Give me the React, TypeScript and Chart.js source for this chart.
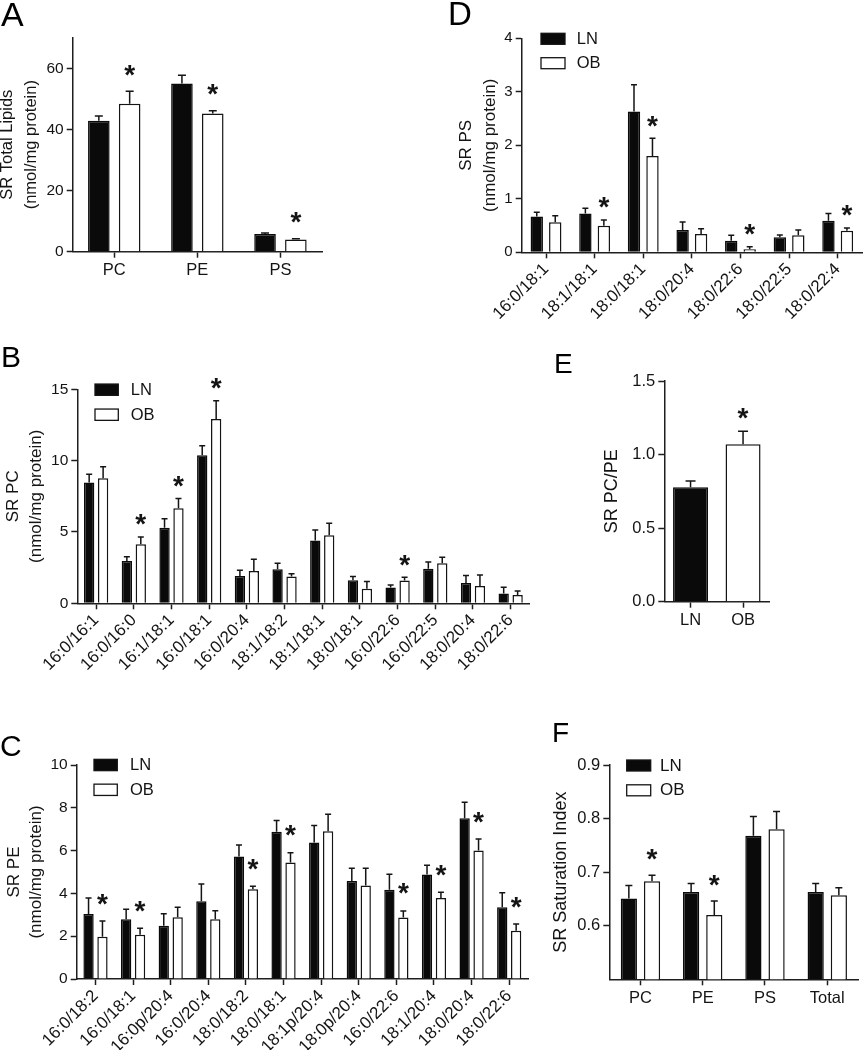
import React, { useEffect, useRef } from 'react';
import { Chart, registerables } from 'chart.js';

Chart.register(...registerables);

const FONT = '"Liberation Sans", Arial, Helvetica, sans-serif';
const AXIS = '#1e1e1e';
const INK = '#141414';
const FILL_LN = '#0a0a0a';
const FILL_OB = '#ffffff';

// ---------- Panel A: SR total lipids ----------
const totalCategories = ['PC', 'PE', 'PS'];
const totalLN = [42.8, 55.0, 5.8];
const totalLNsem = [1.6, 2.7, 0.3];
const totalOB = [48.4, 45.2, 4.0];
const totalOBsem = [4.1, 0.9, 0.25];
const totalStars = [true, true, true];
const totalTicks = [0, 20, 40, 60];

// ---------- Panel B: SR PC species ----------
const pcSpecies = ['16:0/16:1', '16:0/16:0', '16:1/18:1', '16:0/18:1', '16:0/20:4', '18:1/18:2', '18:1/18:1', '18:0/18:1', '16:0/22:6', '16:0/22:5', '18:0/20:4', '18:0/22:6'];
const pcLN = [8.46, 2.97, 5.30, 10.37, 1.92, 2.38, 4.41, 1.61, 1.10, 2.43, 1.43, 0.68];
const pcLNsem = [0.58, 0.30, 0.63, 0.68, 0.39, 0.42, 0.72, 0.27, 0.19, 0.47, 0.51, 0.44];
const pcOB = [8.76, 4.14, 6.66, 12.92, 2.27, 1.87, 4.77, 1.02, 1.59, 2.80, 1.21, 0.58];
const pcOBsem = [0.82, 0.51, 0.68, 1.28, 0.81, 0.21, 0.84, 0.51, 0.23, 0.42, 0.78, 0.28];
const pcStars = [false, true, true, true, false, false, false, false, true, false, false, false];
const pcTicks = [0, 5, 10, 15];

// ---------- Panel C: SR PE species ----------
const peSpecies = ['16:0/18:2', '16:0/18:1', '16:0p/20:4', '16:0/20:4', '18:0/18:2', '18:0/18:1', '18:1p/20:4', '18:0p/20:4', '16:0/22:6', '18:1/20:4', '18:0/20:4', '18:0/22:6'];
const peLN = [3.04, 2.79, 2.49, 3.63, 5.72, 6.88, 6.38, 4.58, 4.17, 4.88, 7.51, 3.35];
const peLNsem = [0.75, 0.47, 0.56, 0.81, 0.54, 0.53, 0.79, 0.59, 0.73, 0.43, 0.75, 0.68];
const peOB = [1.98, 2.07, 2.88, 2.79, 4.19, 5.44, 6.91, 4.37, 2.87, 3.79, 6.00, 2.26];
const peOBsem = [0.73, 0.30, 0.47, 0.40, 0.14, 0.46, 0.79, 0.80, 0.31, 0.26, 0.54, 0.31];
const peStars = [true, true, false, false, true, true, false, false, true, true, true, true];
const peTicks = [0, 2, 4, 6, 8, 10];

// ---------- Panel D: SR PS species ----------
const psSpecies = ['16:0/18:1', '18:1/18:1', '18:0/18:1', '18:0/20:4', '18:0/22:6', '18:0/22:5', '18:0/22:4'];
const psLN = [0.667, 0.723, 2.63, 0.417, 0.218, 0.28, 0.592];
const psLNsem = [0.081, 0.099, 0.50, 0.15, 0.10, 0.044, 0.131];
const psOB = [0.561, 0.498, 1.80, 0.343, 0.056, 0.318, 0.405];
const psOBsem = [0.124, 0.106, 0.33, 0.099, 0.05, 0.099, 0.05];
const psStars = [false, true, true, false, true, false, true];
const psTicks = [0, 1, 2, 3, 4];

// ---------- Panel E: SR PC/PE ----------
const ratioGroups = ['LN', 'OB'];
const ratioValues = [0.778, 1.07];
const ratioSem = [0.043, 0.089];
const ratioStars = [false, true];
const ratioTicks = [0, 0.5, 1.0, 1.5];

// ---------- Panel F: SR saturation index ----------
const satCategories = ['PC', 'PE', 'PS', 'Total'];
const satLN = [0.651, 0.663, 0.768, 0.663];
const satLNsem = [0.024, 0.016, 0.036, 0.016];
const satOB = [0.683, 0.620, 0.780, 0.657];
const satOBsem = [0.011, 0.026, 0.033, 0.014];
const satStars = [true, true, false, false];
const satTicks = [0.6, 0.7, 0.8, 0.9];

type Legend = { boxX: number; boxW: number; boxH: number; row1: number; row2: number; textX: number; size: number };

type Spec = {
  id: string;
  box: { x: number; y: number; w: number; h: number };
  area: { left: number; top: number; right: number; bottom: number };
  labels: string[];
  single?: { values: number[]; sem: number[]; stars: boolean[] };
  ln?: number[]; lnSem?: number[]; ob?: number[]; obSem?: number[]; stars?: boolean[];
  yMin: number; yMax: number; yTicks: number[]; decimals: number;
  title: string | string[]; titleSize: number; titleLH: number; titleX: number;
  xFont: number; yFont: number; rotate: boolean; xPad: number;
  letter: { text: string; x: number; y: number; size: number };
  legend?: Legend;
  cp: number; bp: number; cap: number; starOffset: number; starSize: number;
};

const specs: Spec[] = [
  {
    id: 'A', box: { x: 0, y: 0, w: 340, h: 290 },
    area: { left: 72.7, top: 37.7, right: 322, bottom: 251.7 },
    labels: totalCategories, ln: totalLN, lnSem: totalLNsem, ob: totalOB, obSem: totalOBsem, stars: totalStars,
    yMin: 0, yMax: 70, yTicks: totalTicks, decimals: 0,
    title: ['SR Total Lipids', '(nmol/mg protein)'], titleSize: 16.5, titleLH: 23.5, titleX: 7.5,
    xFont: 16.5, yFont: 15.5, rotate: false, xPad: 3,
    letter: { text: 'A', x: 1, y: 25.7, size: 34 },
    cp: 0.742, bp: 0.7, cap: 4, starOffset: 21, starSize: 28,
  },
  {
    id: 'B', box: { x: 0, y: 300, w: 550, h: 385 },
    area: { left: 77.3, top: 89.3, right: 529.5, bottom: 303.3 },
    labels: pcSpecies, ln: pcLN, lnSem: pcLNsem, ob: pcOB, obSem: pcOBsem, stars: pcStars,
    yMin: 0, yMax: 15, yTicks: pcTicks, decimals: 0,
    title: ['SR PC', '(nmol/mg protein)'], titleSize: 17, titleLH: 22.7, titleX: 13.3,
    xFont: 17, yFont: 15.5, rotate: true, xPad: 1,
    letter: { text: 'B', x: 1, y: 67, size: 30 },
    legend: { boxX: 95, boxW: 23.3, boxH: 11.3, row1: 89.7, row2: 114.7, textX: 130.7, size: 16.5 },
    cp: 0.74, bp: 0.74, cap: 3, starOffset: 17, starSize: 28,
  },
  {
    id: 'C', box: { x: 0, y: 670, w: 550, h: 380 },
    area: { left: 76.7, top: 95, right: 528, bottom: 309 },
    labels: peSpecies, ln: peLN, lnSem: peLNsem, ob: peOB, obSem: peOBsem, stars: peStars,
    yMin: 0, yMax: 10, yTicks: peTicks, decimals: 0,
    title: ['SR PE', '(nmol/mg protein)'], titleSize: 17, titleLH: 22, titleX: 14,
    xFont: 17, yFont: 15.5, rotate: true, xPad: 1,
    letter: { text: 'C', x: 0, y: 85.7, size: 30 },
    legend: { boxX: 94, boxW: 23.3, boxH: 11.3, row1: 95, row2: 119.8, textX: 130, size: 16.5 },
    cp: 0.74, bp: 0.74, cap: 3, starOffset: 22, starSize: 28,
  },
  {
    id: 'D', box: { x: 440, y: 0, w: 425, h: 340 },
    area: { left: 81.7, top: 38.3, right: 422, bottom: 252.3 },
    labels: psSpecies, ln: psLN, lnSem: psLNsem, ob: psOB, obSem: psOBsem, stars: psStars,
    yMin: 0, yMax: 4, yTicks: psTicks, decimals: 0,
    title: ['SR PS', '(nmol/mg protein)'], titleSize: 17, titleLH: 23.3, titleX: 26.7,
    xFont: 17, yFont: 15, rotate: true, xPad: 1,
    letter: { text: 'D', x: 8, y: 25, size: 33 },
    legend: { boxX: 101, boxW: 24, boxH: 11, row1: 38.8, row2: 63.2, textX: 136.7, size: 16.5 },
    cp: 0.76, bp: 0.67, cap: 3, starOffset: 17, starSize: 28,
  },
  {
    id: 'E', box: { x: 540, y: 340, w: 325, h: 290 },
    area: { left: 124.3, top: 41, right: 229.3, bottom: 261.7 },
    labels: ratioGroups, single: { values: ratioValues, sem: ratioSem, stars: ratioStars },
    yMin: 0, yMax: 1.5, yTicks: ratioTicks, decimals: 1,
    title: 'SR PC/PE', titleSize: 18, titleLH: 22, titleX: 72.5,
    xFont: 16.5, yFont: 16.5, rotate: false, xPad: 3,
    letter: { text: 'E', x: 14, y: 33, size: 28 },
    cp: 0.667, bp: 1, cap: 5, starOffset: 18, starSize: 28,
  },
  {
    id: 'F', box: { x: 540, y: 630, w: 325, h: 420 },
    area: { left: 69.3, top: 135, right: 318.4, bottom: 349.3 },
    labels: satCategories, ln: satLN, lnSem: satLNsem, ob: satOB, obSem: satOBsem, stars: satStars,
    yMin: 0.5, yMax: 0.9, yTicks: satTicks, decimals: 1,
    title: 'SR Saturation Index', titleSize: 18, titleLH: 22, titleX: 21,
    xFont: 16.5, yFont: 16.5, rotate: false, xPad: 3,
    letter: { text: 'F', x: 12, y: 112, size: 28 },
    legend: { boxX: 86.7, boxW: 24, boxH: 11, row1: 135.5, row2: 160.3, textX: 120, size: 17 },
    cp: 0.744, bp: 0.7, cap: 3.5, starOffset: 21, starSize: 28,
  },
];

function drawStar(ctx: CanvasRenderingContext2D, x: number, cy: number, size: number) {
  ctx.save();
  ctx.font = `bold ${size}px ${FONT}`;
  ctx.fillStyle = INK;
  ctx.textAlign = 'center';
  ctx.textBaseline = 'alphabetic';
  const m = ctx.measureText('*');
  const asc = m.actualBoundingBoxAscent;
  const desc = m.actualBoundingBoxDescent;
  ctx.fillText('*', x, cy + (asc - desc) / 2);
  ctx.restore();
}

function makeConfig(s: Spec): any {
  const datasets: any[] = s.single
    ? [{
        label: 'ratio', data: s.single.values, errors: s.single.sem, stars: s.single.stars,
        backgroundColor: [FILL_LN, FILL_OB], borderColor: [FILL_LN, INK], borderWidth: 1.5,
        categoryPercentage: s.cp, barPercentage: s.bp,
      }]
    : [
        { label: 'LN', data: s.ln, errors: s.lnSem, stars: null, backgroundColor: FILL_LN, borderColor: FILL_LN, borderWidth: 1.5, categoryPercentage: s.cp, barPercentage: s.bp },
        { label: 'OB', data: s.ob, errors: s.obSem, stars: s.stars, backgroundColor: FILL_OB, borderColor: INK, borderWidth: 1.5, categoryPercentage: s.cp, barPercentage: s.bp },
      ];

  const chartH = s.box.h;
  const chartW = s.box.w;

  const overlay = {
    id: 'overlay' + s.id,
    afterDatasetsDraw(chart: any) {
      const ctx: CanvasRenderingContext2D = chart.ctx;
      const yScale = chart.scales.y;
      chart.data.datasets.forEach((ds: any, i: number) => {
        const meta = chart.getDatasetMeta(i);
        meta.data.forEach((bar: any, j: number) => {
          const v = ds.data[j];
          const e = ds.errors[j];
          const top = yScale.getPixelForValue(v + e);
          ctx.save();
          ctx.strokeStyle = INK;
          ctx.lineWidth = 1.5;
          ctx.beginPath();
          ctx.moveTo(bar.x, bar.y);
          ctx.lineTo(bar.x, top);
          ctx.moveTo(bar.x - s.cap, top);
          ctx.lineTo(bar.x + s.cap, top);
          ctx.stroke();
          ctx.restore();
          if (ds.stars && ds.stars[j]) drawStar(ctx, bar.x, top - s.starOffset, s.starSize);
        });
      });
    },
    afterDraw(chart: any) {
      const ctx: CanvasRenderingContext2D = chart.ctx;
      ctx.save();
      ctx.fillStyle = '#000';
      ctx.font = `${s.letter.size}px ${FONT}`;
      ctx.textAlign = 'left';
      ctx.textBaseline = 'alphabetic';
      ctx.fillText(s.letter.text, s.letter.x, s.letter.y);
      if (s.legend) {
        const L = s.legend;
        const rows = [
          { y: L.row1, fill: FILL_LN, text: 'LN' },
          { y: L.row2, fill: FILL_OB, text: 'OB' },
        ];
        ctx.font = `${L.size}px ${FONT}`;
        ctx.textBaseline = 'middle';
        rows.forEach((r) => {
          ctx.fillStyle = r.fill;
          ctx.fillRect(L.boxX, r.y - L.boxH / 2, L.boxW, L.boxH);
          ctx.strokeStyle = INK;
          ctx.lineWidth = 1.3;
          ctx.strokeRect(L.boxX, r.y - L.boxH / 2, L.boxW, L.boxH);
          ctx.fillStyle = INK;
          ctx.fillText(r.text, L.textX, r.y + 0.5);
        });
      }
      ctx.restore();
    },
  };

  const gridOpts = {
    display: true, drawOnChartArea: false, drawTicks: true, tickLength: 6, tickWidth: 1.5, tickColor: AXIS, offset: false,
  };

  return {
    type: 'bar',
    data: { labels: s.labels, datasets },
    options: {
      responsive: false,
      maintainAspectRatio: false,
      animation: false,
      devicePixelRatio: 1,
      layout: { padding: { left: 0, top: s.area.top, right: chartW - s.area.right, bottom: 0 } },
      plugins: { legend: { display: false }, tooltip: { enabled: false }, title: { display: false } },
      scales: {
        x: {
          type: 'category',
          offset: true,
          grid: gridOpts,
          border: { display: true, color: AXIS, width: 1.5 },
          ticks: {
            color: INK, font: { family: FONT, size: s.xFont }, autoSkip: false,
            maxRotation: s.rotate ? 45 : 0, minRotation: s.rotate ? 45 : 0, padding: s.xPad,
          },
          afterFit: (sc: any) => {
            sc.height = chartH - s.area.bottom;
            sc.paddingLeft = 0; sc.paddingRight = 0; sc.paddingTop = 0; sc.paddingBottom = 0;
          },
        },
        y: {
          type: 'linear',
          min: s.yMin,
          max: s.yMax,
          afterBuildTicks: (sc: any) => { sc.ticks = s.yTicks.map((v) => ({ value: v })); },
          grid: gridOpts,
          border: { display: true, color: AXIS, width: 1.5 },
          ticks: {
            color: INK, font: { family: FONT, size: s.yFont }, padding: 3,
            callback: (v: any) => Number(v).toFixed(s.decimals),
          },
          title: {
            display: true, text: s.title, color: INK,
            font: { family: FONT, size: s.titleSize, lineHeight: `${s.titleLH}px` },
            padding: { top: s.titleX - s.titleLH / 2, bottom: 0 },
          },
          afterFit: (sc: any) => {
            sc.width = s.area.left;
            sc.paddingLeft = 0; sc.paddingRight = 0; sc.paddingTop = 0; sc.paddingBottom = 0;
          },
        },
      },
    },
    plugins: [overlay],
  };
}

function Panel({ spec }: { spec: Spec }) {
  const ref = useRef<HTMLCanvasElement | null>(null);
  useEffect(() => {
    if (!ref.current) return;
    const chart = new Chart(ref.current, makeConfig(spec));
    return () => chart.destroy();
  }, [spec]);
  return (
    <canvas
      ref={ref}
      width={spec.box.w}
      height={spec.box.h}
      style={{ position: 'absolute', left: spec.box.x, top: spec.box.y, width: spec.box.w, height: spec.box.h }}
    />
  );
}

export default function App() {
  return (
    <div style={{ position: 'absolute', left: 0, top: 0, width: 865, height: 1050, background: '#fff', overflow: 'hidden' }}>
      {specs.map((s) => (
        <Panel key={s.id} spec={s} />
      ))}
    </div>
  );
}
